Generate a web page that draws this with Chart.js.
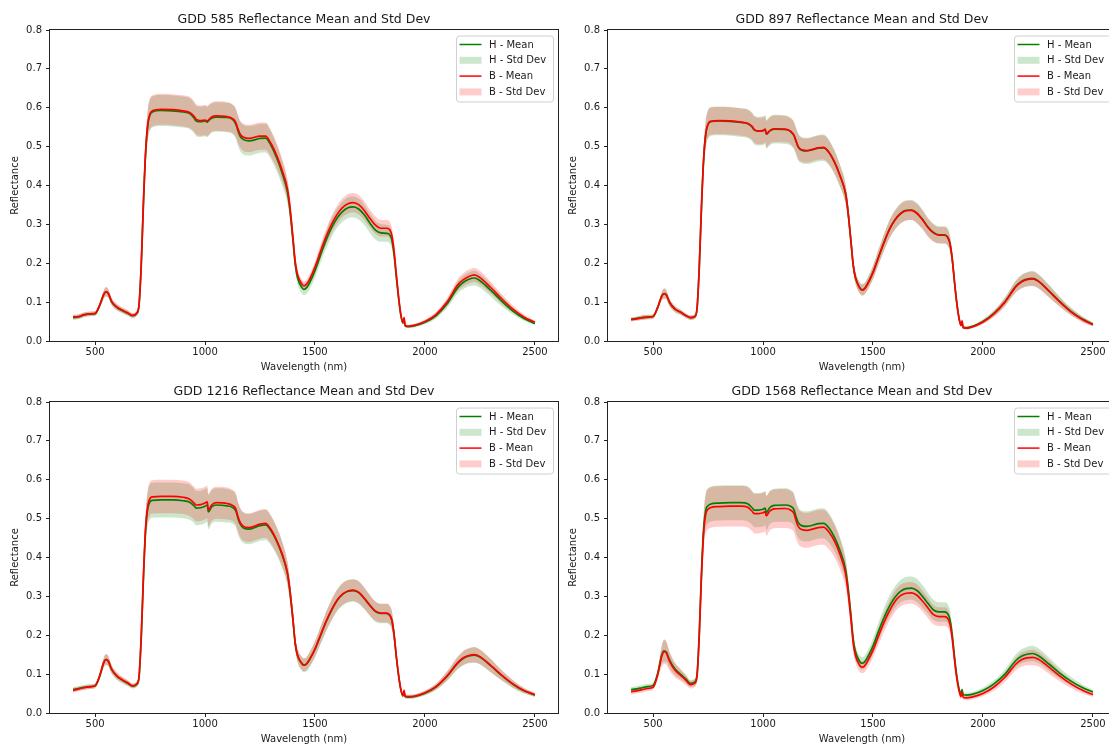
<!DOCTYPE html>
<html>
<head>
<meta charset="utf-8">
<script src="https://cdn.jsdelivr.net/npm/chart.js@4"></script>
<style>
html,body{margin:0;padding:0;background:#fff;overflow:hidden;width:1109px;height:744px;position:relative}
.cell{position:absolute;width:560px;height:372px}
canvas{display:block}
</style>
</head>
<body>
<div class="cell" style="left:0;top:0"><canvas id="c0" width="560" height="372"></canvas></div>
<div class="cell" style="left:558px;top:0"><canvas id="c1" width="560" height="372"></canvas></div>
<div class="cell" style="left:0;top:372px"><canvas id="c2" width="560" height="372"></canvas></div>
<div class="cell" style="left:558px;top:372px"><canvas id="c3" width="560" height="372"></canvas></div>
<script>
// ---------------- DATA ----------------
const wavelengths = [
  400,425,450,475,500,520,540,550,560,575,
  600,625,650,670,690,700,710,720,730,740,
  750,760,800,850,900,930,950,960,980,1000,
  1010,1015,1030,1050,1100,1125,1140,1150,1160,1175,
  1200,1250,1275,1300,1325,1350,1375,1385,1400,1410,
  1420,1440,1450,1460,1475,1500,1525,1550,1575,1600,
  1625,1650,1675,1700,1725,1750,1775,1800,1825,1840,
  1850,1860,1870,1880,1890,1900,1905,1910,1925,1950,
  2000,2050,2100,2150,2175,2200,2225,2250,2300,2350,
  2400,2450,2500];
const xTicks = [500,1000,1500,2000,2500];
const yTicks = [0,0.1,0.2,0.3,0.4,0.5,0.6,0.7,0.8];
const gddValues = ['585','897','1216','1568'];
const seriesLabels = ['H - Mean','H - Std Dev','B - Mean','B - Std Dev'];

// GDD 585
const h585Mean = [
  .060,.062,.067,.069,.070,.090,.120,.126,.122,.101,
  .086,.078,.071,.065,.071,.093,.195,.355,.485,.556,
  .582,.589,.593,.592,.589,.585,.574,.566,.564,.566,
  .563,.566,.573,.576,.575,.570,.558,.540,.526,.518,
  .515,.521,.522,.503,.472,.433,.382,.342,.258,.198,
  .164,.138,.133,.136,.149,.181,.221,.259,.291,.316,
  .333,.343,.345,.339,.324,.303,.285,.278,.277,.273,
  .258,.220,.163,.110,.067,.046,.055,.039,.037,.039,
  .048,.065,.095,.138,.151,.159,.162,.155,.130,.102,
  .077,.058,.045];
const h585Std = [
  .006,.006,.006,.006,.006,.007,.011,.012,.011,.009,
  .008,.007,.007,.006,.007,.009,.016,.026,.034,.039,
  .040,.040,.040,.040,.040,.040,.039,.039,.039,.039,
  .039,.039,.038,.038,.038,.038,.038,.038,.038,.038,
  .038,.037,.037,.036,.034,.032,.029,.027,.022,.018,
  .016,.015,.015,.015,.016,.018,.020,.022,.024,.025,
  .026,.027,.027,.027,.026,.025,.024,.023,.022,.022,
  .021,.018,.014,.010,.007,.005,.005,.004,.004,.004,
  .005,.007,.010,.015,.017,.018,.019,.018,.016,.013,
  .009,.006,.004];
const b585Mean = [
  .062,.063,.068,.070,.071,.091,.121,.127,.123,.102,
  .087,.079,.072,.066,.072,.095,.200,.360,.490,.560,
  .585,.592,.596,.595,.592,.588,.578,.570,.567,.568,
  .566,.568,.576,.579,.577,.572,.562,.545,.532,.524,
  .521,.527,.527,.508,.478,.440,.390,.350,.265,.205,
  .172,.147,.142,.145,.158,.190,.230,.268,.300,.325,
  .343,.353,.356,.350,.335,.315,.298,.290,.290,.286,
  .270,.230,.170,.115,.070,.048,.060,.040,.038,.040,
  .050,.068,.100,.145,.158,.166,.170,.163,.137,.108,
  .082,.062,.048];
const b585Std = [
  .006,.006,.006,.006,.006,.007,.011,.012,.011,.009,
  .008,.007,.007,.006,.007,.009,.016,.026,.034,.039,
  .040,.040,.040,.040,.040,.040,.039,.039,.039,.039,
  .039,.039,.038,.038,.038,.037,.037,.036,.035,.035,
  .035,.035,.035,.034,.032,.030,.027,.025,.020,.016,
  .014,.012,.012,.012,.013,.015,.018,.020,.022,.023,
  .024,.025,.025,.025,.024,.023,.022,.021,.021,.021,
  .020,.017,.013,.009,.006,.005,.005,.004,.004,.004,
  .005,.007,.010,.015,.017,.018,.018,.018,.015,.012,
  .009,.006,.004];

// GDD 897
const h897Mean = [
  .056,.058,.060,.062,.063,.085,.116,.122,.119,.099,
  .082,.074,.065,.060,.063,.084,.188,.343,.468,.534,
  .557,.564,.566,.565,.562,.559,.551,.543,.540,.541,
  .544,.532,.540,.545,.544,.539,.529,.514,.499,.491,
  .489,.496,.497,.485,.460,.425,.380,.340,.255,.196,
  .164,.137,.132,.134,.147,.177,.216,.254,.288,.312,
  .328,.336,.337,.329,.313,.293,.279,.273,.273,.267,
  .251,.213,.156,.103,.063,.041,.048,.035,.034,.037,
  .050,.071,.101,.141,.153,.159,.161,.155,.129,.101,
  .076,.057,.043];
const h897Std = [
  .005,.005,.006,.006,.006,.007,.011,.013,.012,.010,
  .008,.007,.006,.006,.006,.008,.016,.027,.033,.036,
  .037,.037,.037,.037,.037,.037,.037,.037,.037,.037,
  .037,.037,.037,.037,.037,.036,.036,.035,.035,.034,
  .034,.034,.034,.033,.031,.029,.026,.024,.020,.017,
  .016,.015,.015,.015,.016,.018,.020,.022,.024,.025,
  .026,.026,.026,.026,.025,.024,.023,.022,.022,.022,
  .021,.018,.014,.010,.007,.005,.005,.004,.004,.004,
  .006,.008,.011,.015,.017,.018,.019,.018,.016,.013,
  .010,.007,.005];
const b897Mean = [
  .055,.057,.060,.061,.063,.085,.116,.122,.119,.099,
  .082,.074,.065,.060,.063,.085,.190,.345,.470,.535,
  .558,.565,.567,.566,.563,.560,.552,.544,.540,.541,
  .545,.532,.541,.546,.545,.540,.530,.515,.500,.492,
  .490,.497,.498,.485,.460,.425,.380,.340,.255,.195,
  .163,.136,.131,.133,.146,.176,.215,.253,.287,.311,
  .327,.335,.336,.328,.312,.292,.278,.272,.272,.266,
  .250,.212,.155,.102,.062,.040,.052,.034,.033,.036,
  .049,.070,.100,.140,.152,.158,.160,.154,.128,.100,
  .075,.056,.042];
const b897Std = [
  .005,.005,.006,.006,.006,.007,.011,.013,.012,.010,
  .008,.007,.006,.006,.006,.008,.015,.025,.031,.034,
  .035,.035,.035,.035,.035,.035,.034,.034,.034,.034,
  .034,.034,.034,.034,.034,.033,.033,.032,.032,.031,
  .031,.031,.031,.030,.029,.027,.025,.023,.019,.016,
  .015,.014,.014,.014,.015,.017,.019,.021,.023,.024,
  .025,.025,.025,.025,.024,.023,.022,.021,.021,.021,
  .020,.017,.013,.009,.006,.005,.005,.004,.004,.004,
  .005,.008,.011,.015,.017,.018,.019,.018,.016,.012,
  .009,.007,.005];

// GDD 1216
const h1216Mean = [
  .060,.063,.066,.068,.070,.093,.130,.137,.133,.112,
  .094,.084,.076,.069,.074,.093,.195,.348,.472,.527,
  .543,.547,.548,.548,.546,.542,.533,.527,.528,.532,
  .535,.517,.530,.535,.533,.529,.520,.500,.486,.476,
  .473,.482,.484,.469,.443,.408,.358,.318,.238,.179,
  .149,.127,.123,.125,.137,.164,.199,.234,.264,.289,
  .305,.313,.315,.309,.294,.276,.261,.256,.256,.251,
  .237,.199,.144,.097,.061,.044,.052,.042,.041,.042,
  .051,.067,.094,.129,.141,.147,.149,.144,.121,.096,
  .074,.057,.046];
const h1216Std = [
  .006,.006,.006,.006,.006,.008,.013,.014,.013,.011,
  .009,.008,.007,.006,.007,.009,.017,.029,.038,.043,
  .045,.045,.045,.045,.045,.045,.044,.044,.044,.044,
  .044,.044,.043,.043,.043,.042,.042,.041,.040,.039,
  .039,.039,.039,.038,.036,.034,.031,.028,.023,.019,
  .018,.018,.018,.018,.019,.021,.023,.025,.027,.028,
  .029,.029,.029,.029,.028,.027,.026,.025,.025,.025,
  .024,.020,.016,.011,.008,.006,.006,.005,.005,.005,
  .006,.008,.012,.016,.018,.019,.020,.019,.017,.013,
  .010,.007,.005];
const b1216Mean = [
  .058,.062,.065,.067,.070,.094,.131,.138,.134,.113,
  .095,.085,.077,.070,.075,.095,.200,.355,.480,.535,
  .552,.556,.557,.557,.555,.550,.540,.535,.536,.540,
  .543,.522,.535,.541,.539,.534,.525,.505,.490,.480,
  .477,.486,.488,.472,.445,.410,.360,.320,.240,.180,
  .150,.128,.124,.126,.138,.165,.200,.235,.265,.290,
  .306,.314,.316,.310,.295,.277,.262,.257,.257,.252,
  .238,.200,.145,.098,.062,.045,.058,.043,.042,.043,
  .052,.068,.095,.130,.142,.148,.150,.145,.122,.097,
  .075,.058,.047];
const b1216Std = [
  .006,.006,.006,.006,.006,.008,.013,.014,.013,.011,
  .009,.008,.007,.006,.007,.009,.017,.028,.037,.041,
  .043,.043,.043,.043,.043,.043,.042,.042,.042,.042,
  .042,.042,.041,.041,.041,.040,.040,.039,.038,.037,
  .037,.037,.037,.036,.034,.032,.029,.027,.022,.018,
  .017,.017,.017,.017,.018,.020,.022,.024,.026,.027,
  .028,.028,.028,.028,.027,.026,.025,.024,.024,.024,
  .023,.019,.015,.010,.007,.006,.006,.005,.005,.005,
  .006,.008,.012,.016,.018,.019,.020,.019,.017,.013,
  .010,.007,.005];

// GDD 1568
const h1568Mean = [
  .060,.062,.065,.068,.071,.100,.150,.160,.157,.136,
  .113,.100,.087,.076,.080,.100,.205,.360,.475,.523,
  .533,.537,.540,.541,.541,.538,.528,.522,.522,.524,
  .527,.515,.528,.534,.535,.532,.524,.505,.490,.482,
  .480,.487,.488,.476,.452,.418,.370,.330,.250,.190,
  .158,.132,.128,.130,.143,.172,.210,.245,.275,.298,
  .313,.320,.321,.315,.300,.282,.265,.260,.260,.255,
  .240,.203,.148,.100,.066,.050,.060,.047,.046,.048,
  .058,.075,.100,.135,.146,.151,.153,.148,.126,.102,
  .082,.066,.054];
const h1568Std = [
  .007,.007,.007,.007,.007,.010,.024,.028,.026,.021,
  .016,.013,.011,.009,.010,.012,.020,.032,.040,.044,
  .045,.045,.045,.045,.045,.045,.044,.044,.044,.044,
  .044,.044,.043,.043,.043,.042,.042,.041,.040,.039,
  .039,.039,.039,.038,.036,.034,.031,.028,.023,.019,
  .017,.016,.016,.016,.017,.020,.023,.025,.027,.028,
  .029,.030,.030,.030,.029,.027,.026,.025,.025,.025,
  .024,.020,.016,.011,.008,.007,.007,.006,.006,.006,
  .007,.009,.012,.016,.018,.019,.020,.019,.017,.014,
  .011,.008,.006];
const b1568Mean = [
  .055,.057,.060,.063,.066,.096,.147,.158,.155,.133,
  .110,.097,.084,.073,.077,.095,.198,.350,.465,.513,
  .524,.528,.531,.532,.532,.529,.519,.513,.513,.515,
  .518,.507,.519,.525,.526,.522,.514,.495,.480,.472,
  .470,.477,.478,.465,.442,.408,.360,.320,.240,.180,
  .148,.122,.118,.120,.133,.161,.198,.233,.263,.287,
  .302,.308,.309,.303,.288,.270,.253,.248,.248,.243,
  .229,.193,.140,.093,.060,.042,.055,.040,.039,.041,
  .050,.067,.092,.126,.137,.142,.143,.139,.118,.095,
  .075,.059,.047];
const b1568Std = [
  .007,.007,.007,.007,.007,.011,.027,.032,.030,.024,
  .018,.015,.012,.010,.010,.012,.021,.034,.045,.050,
  .052,.052,.052,.052,.052,.052,.051,.051,.051,.051,
  .051,.051,.050,.050,.050,.049,.049,.047,.046,.045,
  .045,.045,.045,.044,.042,.039,.035,.032,.026,.021,
  .018,.016,.016,.016,.017,.019,.022,.024,.026,.027,
  .028,.028,.028,.028,.027,.026,.025,.024,.024,.024,
  .023,.019,.015,.010,.007,.007,.007,.006,.006,.006,
  .007,.009,.012,.016,.018,.019,.020,.019,.017,.014,
  .011,.008,.006];

// ---------------- STYLE ----------------
const FONT = "'DejaVu Sans', 'Liberation Sans', sans-serif";
const TEXT = '#1a1a1a';
const GREEN = '#008000', RED = '#ff0000';
const GREEN_FILL = 'rgba(0,128,0,0.2)', RED_FILL = 'rgba(255,0,0,0.2)';

const spinesPlugin = {
  id: 'spines',
  afterDraw(chart) {
    const {ctx, chartArea: a} = chart;
    ctx.save();
    ctx.strokeStyle = '#222';
    ctx.lineWidth = 1;
    ctx.strokeRect(Math.round(a.left) - 0.5, Math.round(a.top) - 0.5,
                   Math.round(a.right - a.left) + 1, Math.round(a.bottom - a.top) + 1);
    ctx.restore();
  }
};

const legendPlugin = {
  id: 'mplLegend',
  afterDatasetsDraw(chart) {
    const {ctx, chartArea: a} = chart;
    const w = 97, h = 66, rowH = 15.8;
    const right = a.right - 5, top = a.top + 5.5, left = right - w;
    ctx.save();
    ctx.beginPath();
    ctx.roundRect(left + 0.5, top + 0.5, w, h, 3);
    ctx.fillStyle = 'rgba(255,255,255,0.8)';
    ctx.fill();
    ctx.strokeStyle = '#d0d0d0';
    ctx.lineWidth = 1;
    ctx.stroke();
    ctx.font = '10px ' + FONT;
    ctx.textBaseline = 'middle';
    ctx.textAlign = 'left';
    seriesLabels.forEach((lbl, i) => {
      const ds = chart.data.datasets.find(d => d.label === lbl);
      const y = top + 9 + i * rowH;
      if (ds.isBand) {
        ctx.fillStyle = ds.backgroundColor;
        ctx.fillRect(left + 3.5, y - 3.5, 22, 7);
      } else {
        ctx.strokeStyle = ds.borderColor;
        ctx.lineWidth = 1.5;
        ctx.beginPath();
        ctx.moveTo(left + 3.5, y);
        ctx.lineTo(left + 25.5, y);
        ctx.stroke();
      }
      ctx.fillStyle = TEXT;
      ctx.fillText(lbl, left + 33, y + 0.5);
    });
    ctx.restore();
  }
};

function pts(mean, std, sign) {
  return wavelengths.map((x, i) => ({x, y: mean[i] + sign * (std ? std[i] : 0)}));
}

function axisCommon() {
  return {
    grid: {display: true, drawOnChartArea: false, drawTicks: true, tickLength: 4, color: '#222', lineWidth: 1},
    border: {display: false},
  };
}

function makeChart(id, gdd, hMean, hStd, bMean, bStd) {
  const lineBase = {pointRadius: 0, borderWidth: 1.7, cubicInterpolationMode: 'monotone', fill: false};
  const bandBase = {pointRadius: 0, borderWidth: 0, cubicInterpolationMode: 'monotone'};
  const datasets = [
    Object.assign({label: seriesLabels[2], data: pts(bMean, null, 0), borderColor: RED}, lineBase),
    Object.assign({label: seriesLabels[0], data: pts(hMean, null, 0), borderColor: GREEN}, lineBase),
    Object.assign({label: seriesLabels[3], isBand: true, data: pts(bMean, bStd, 1), fill: '+1', backgroundColor: RED_FILL, borderColor: 'rgba(0,0,0,0)'}, bandBase),
    Object.assign({label: 'B lower', data: pts(bMean, bStd, -1), fill: false, borderColor: 'rgba(0,0,0,0)'}, bandBase),
    Object.assign({label: seriesLabels[1], isBand: true, data: pts(hMean, hStd, 1), fill: '+1', backgroundColor: GREEN_FILL, borderColor: 'rgba(0,0,0,0)'}, bandBase),
    Object.assign({label: 'H lower', data: pts(hMean, hStd, -1), fill: false, borderColor: 'rgba(0,0,0,0)'}, bandBase),
  ];
  new Chart(document.getElementById(id), {
    type: 'line',
    data: {datasets},
    options: {
      responsive: false,
      animation: false,
      events: [],
      layout: {padding: {left: 0, right: 2, top: 0, bottom: 0}},
      plugins: {
        legend: {display: false},
        tooltip: {enabled: false},
        title: {
          display: true,
          fullSize: false,
          text: 'GDD ' + gdd + ' Reflectance Mean and Std Dev',
          color: TEXT,
          font: {family: FONT, size: 12.5, weight: 'normal', lineHeight: 1.2},
          padding: {top: 12, bottom: 3}
        }
      },
      scales: {
        x: Object.assign(axisCommon(), {
          type: 'linear',
          min: 295, max: 2605,
          afterBuildTicks: s => { s.ticks = xTicks.map(v => ({value: v})); },
          afterFit: s => { s.height = 31; },
          ticks: {color: TEXT, font: {family: FONT, size: 10}, padding: 1, maxRotation: 0, autoSkip: false,
                  callback: v => String(v)},
          title: {display: true, text: 'Wavelength (nm)', color: TEXT,
                  font: {family: FONT, size: 10, lineHeight: 1}, padding: {top: 0, bottom: 0}}
        }),
        y: Object.assign(axisCommon(), {
          type: 'linear',
          min: 0, max: 0.8,
          afterBuildTicks: s => { s.ticks = yTicks.map(v => ({value: v})); },
          afterFit: s => { s.width = 50; },
          ticks: {color: TEXT, font: {family: FONT, size: 10}, padding: 4, autoSkip: false,
                  callback: v => Number(v).toFixed(1)},
          title: {display: true, text: 'Reflectance', color: TEXT,
                  font: {family: FONT, size: 10, lineHeight: 1.2}, padding: {top: 9, bottom: 0}}
        })
      }
    },
    plugins: [legendPlugin, spinesPlugin]
  });
}

makeChart('c0', gddValues[0], h585Mean, h585Std, b585Mean, b585Std);
makeChart('c1', gddValues[1], h897Mean, h897Std, b897Mean, b897Std);
makeChart('c2', gddValues[2], h1216Mean, h1216Std, b1216Mean, b1216Std);
makeChart('c3', gddValues[3], h1568Mean, h1568Std, b1568Mean, b1568Std);
</script>
</body>
</html>
